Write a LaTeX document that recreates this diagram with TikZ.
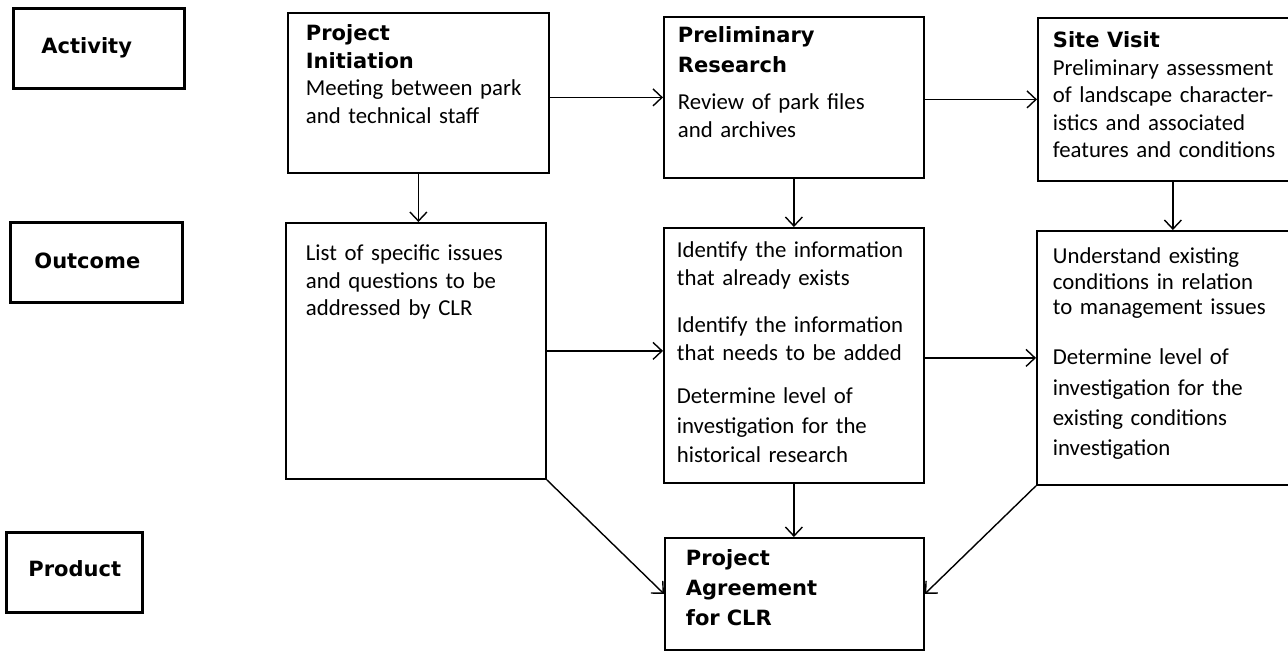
\documentclass[tikz,border=0pt]{standalone}
\usepackage{fontspec}
\setmainfont{Carlito}
\newfontfamily\headfont{DejaVu Sans}
\usepackage{tikz}
\usetikzlibrary{arrows.meta,positioning}
\newcommand\boxhead[1]{{\fontsize{10.5}{13.75}\headfont\bfseries #1}}
\tikzset{
  stage/.style={draw, line width=0.9pt, anchor=north west, align=left,
    inner ysep=0pt, font=\fontsize{11.4}{13.75}\selectfont},
  rowlabel/.style={stage, line width=1.4pt, font=\fontsize{10.5}{13.75}\headfont\bfseries},
  flow/.style={-{Straight Barb[length=4.5pt,width=8.5pt]}, line width=0.7pt},
}

\begin{document}
\begin{tikzpicture}[x=0.5pt,y=-0.5pt]
 \useasboundingbox (0,0) rectangle (1288,650);
 % row labels
 \node[rowlabel, inner xsep=14pt, text width=57.5pt, text height=22.5pt, text depth=17.5pt] (activity) at (12,7) {Activity};
 \node[rowlabel, inner xsep=12pt, text width=62pt, text height=23pt, text depth=17pt] (outcome) at (9,221) {Outcome};
 \node[rowlabel, inner xsep=11pt, text width=46pt, text height=22pt, text depth=18pt] (product) at (5,531) {Product};
 % activities
 \node[stage, inner xsep=9pt, text width=112.5pt, text height=14pt, text depth=66pt] (init) at (287,12)
   {\boxhead{Project}\\\boxhead{Initiation}\\Meeting between park\\and technical staff};
 \node[stage, inner xsep=7pt, text width=116pt, text height=13pt, text depth=67.5pt] (prelim) at (663,16)
   {\boxhead{Preliminary}\\[1pt]\boxhead{Research}\\[5pt]Review of park files\\and archives};
 \node[stage, inner xsep=7.5pt, text width=120pt, text height=15pt, text depth=66.5pt] (visit) at (1037,17)
   {\boxhead{Site Visit}\\Preliminary assessment\\of landscape character-\\istics and associated\\features and conditions};
 % outcomes
 \node[stage, inner xsep=10pt, text width=110pt, text height=19pt, text depth=109pt] (issues) at (285,222)
   {List of specific issues\\and questions to be\\addressed by CLR};
 \node[stage, inner xsep=6.5pt, text width=117pt, text height=15pt, text depth=112.5pt] (info) at (663,227)
   {Identify the information\\that already exists\\[10pt]Identify the information\\that needs to be added\\[8pt]Determine level of\\[1pt]investigation for the\\[1pt]historical research};
 \node[stage, inner xsep=8pt, text width=116pt, text height=16.5pt, text depth=110.5pt] (cond) at (1036,230)
   {Understand existing\\[-1pt]conditions in relation\\[-1pt]to management issues\\[11pt]Determine level of\\[2pt]investigation for the\\[1pt]existing conditions\\[1.5pt]investigation};
 % product
 \node[stage, inner xsep=10.5pt, text width=108.5pt, text height=14pt, text depth=42pt,
   font=\fontsize{10.5}{15}\headfont\bfseries] (agree) at (664,537)
   {Project\\Agreement\\for CLR};
 % connectors
 \draw[flow] (prelim.west -| init.east) -- (prelim.west);
 \draw[flow] (visit.west -| prelim.east) -- (visit.west);
 \draw[flow] (init.south) -- (init.south |- issues.north);
 \draw[flow] (prelim.south) -- (prelim.south |- info.north);
 \draw[flow] (visit.south) -- (visit.south |- cond.north);
 \draw[flow] (issues.east) -- (issues.east -| info.west);
 \draw[flow] (cond.west -| info.east) -- (cond.west);
 \draw[flow] (info.south) -- (info.south |- agree.north);
 \draw[flow] (issues.south east) -- (agree.west);
 \draw[flow] (cond.south west) -- (agree.east);
\end{tikzpicture}
\end{document}
